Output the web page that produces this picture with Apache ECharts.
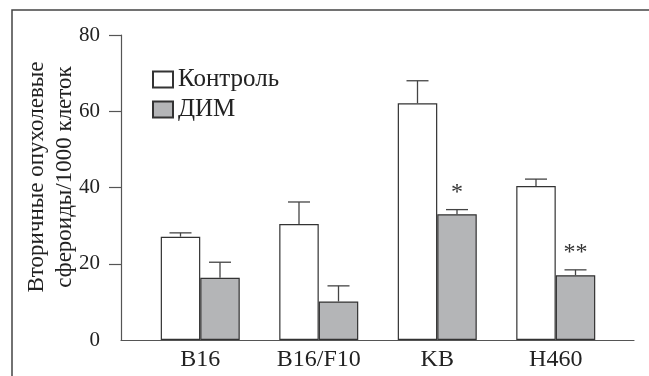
<!DOCTYPE html>
<html><head><meta charset="utf-8">
<script src="https://cdn.jsdelivr.net/npm/echarts@6/dist/echarts.min.js"></script>
<style>html,body{margin:0;padding:0;background:#fff}#c{width:649px;height:376px}</style>
</head><body><div id="c"></div>
<script>
const categories = ['B16', 'B16/F10', 'KB', 'H460'];
const controlValues = [27.1, 30.4, 62.1, 40.4];
const controlErrors = [1.0, 5.8, 5.9, 1.8];
const dimValues = [16.3, 10.1, 33.0, 17.0];
const dimErrors = [4.1, 4.1, 1.2, 1.4];
const dimMarks = ['', '', '*', '**'];
const yTicks = [0, 20, 40, 60, 80];
const seriesNames = ['Контроль', 'ДИМ'];

const FONT = 'Liberation Serif';
const BAR_W = 39.5;
const chart = echarts.init(document.getElementById('c'), null, {renderer: 'canvas'});

function errItem(values, errors, marks, side) {
  return function (params, api) {
    const i = api.value(0);
    const v = api.value(1);
    const e = api.value(2);
    const base = api.coord([i, v]);
    const top = api.coord([i, v + e]);
    const x = base[0] + side * BAR_W / 2;
    const half = 11;
    const children = [
      {type: 'line', shape: {x1: x, y1: base[1], x2: x, y2: top[1]}, style: {stroke: '#444', lineWidth: 1.3}},
      {type: 'line', shape: {x1: x - half, y1: top[1], x2: x + half, y2: top[1]}, style: {stroke: '#444', lineWidth: 1.3}}
    ];
    const m = marks ? marks[params.dataIndex] : '';
    if (m) {
      children.push({type: 'text', x: x, y: top[1] - 17, style: {text: m, font: '24px "' + FONT + '"', fill: '#333', align: 'center', verticalAlign: 'middle'}});
    }
    return {type: 'group', children: children};
  };
}

const option = {
  animation: false,
  graphic: [
    {type: 'rect', shape: {x: 12, y: 10, width: 700, height: 400}, style: {fill: 'none', stroke: '#444', lineWidth: 1.5}, silent: true},
    {type: 'text', x: 51, y: 177, rotation: Math.PI / 2,
     style: {text: 'Вторичные опухолевые\nсфероиды/1000 клеток', font: '23px "' + FONT + '"', fill: '#222', align: 'center', verticalAlign: 'middle', lineHeight: 28}}
  ],
  legend: {
    orient: 'vertical', left: 152, top: 67, itemWidth: 20, itemHeight: 16, itemGap: 5, padding: 0,
    icon: 'rect',
    textStyle: {fontFamily: FONT, fontSize: 25, color: '#222'},
    data: seriesNames
  },
  grid: [
    {left: 121, right: 15, top: 35, bottom: 36},
    {left: 141, right: 34, top: 35, bottom: 36}
  ],
  xAxis: [
    {type: 'value', gridIndex: 0, min: 0, max: 1, axisLine: {show: true, lineStyle: {color: '#555', width: 1.2}}, axisTick: {show: false}, axisLabel: {show: false}, splitLine: {show: false}},
    {type: 'category', gridIndex: 1, data: categories, axisLine: {show: false}, axisTick: {show: false},
     axisLabel: {fontFamily: FONT, fontSize: 24, color: '#222', margin: 8}}
  ],
  yAxis: [
    {type: 'value', gridIndex: 0, min: 0, max: 80, interval: 20,
     axisLine: {show: true, lineStyle: {color: '#555', width: 1.2}},
     axisTick: {show: true, length: 12, lineStyle: {color: '#555', width: 1.2},
       customValues: yTicks.filter(v => v !== 0)},
     axisLabel: {fontFamily: FONT, fontSize: 21, color: '#222', margin: 21, customValues: yTicks},
     splitLine: {show: false}},
    {type: 'value', gridIndex: 1, min: 0, max: 80, interval: 20, show: false}
  ],
  series: [
    {name: seriesNames[0], type: 'bar', xAxisIndex: 1, yAxisIndex: 1, barWidth: BAR_W, barGap: '0%',
     data: controlValues, itemStyle: {color: '#ffffff', borderColor: '#333', borderWidth: 1.2}, z: 2},
    {name: seriesNames[1], type: 'bar', xAxisIndex: 1, yAxisIndex: 1, barWidth: BAR_W, barGap: '0%',
     data: dimValues, itemStyle: {color: '#b4b5b7', borderColor: '#333', borderWidth: 1.2}, z: 2},
    {type: 'custom', xAxisIndex: 1, yAxisIndex: 1, renderItem: errItem(controlValues, controlErrors, null, -1),
     data: controlValues.map((v, i) => [i, v, controlErrors[i]]), z: 3, silent: true},
    {type: 'custom', xAxisIndex: 1, yAxisIndex: 1, renderItem: errItem(dimValues, dimErrors, dimMarks, 1),
     data: dimValues.map((v, i) => [i, v, dimErrors[i]]), z: 3, silent: true}
  ]
};
chart.setOption(option);
</script></body></html>
